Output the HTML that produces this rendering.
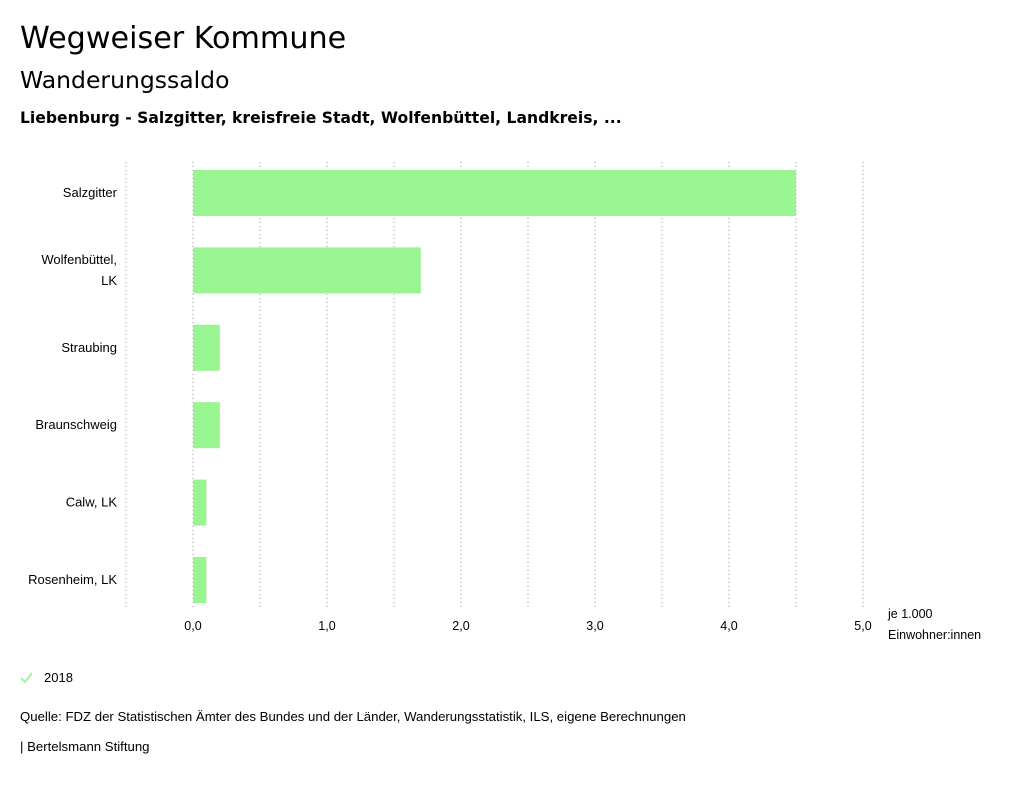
<!DOCTYPE html>
<html><head><meta charset="utf-8"><style>
body{margin:0;background:#fff;font-family:"Liberation Sans","DejaVu Sans",sans-serif;}
svg text{font-family:"Liberation Sans","DejaVu Sans",sans-serif;}
svg text.h{font-family:"DejaVu Sans","Liberation Sans",sans-serif;}
</style></head><body>
<svg width="1024" height="780">
<text class="h" x="20" y="48" font-size="30.2" fill="#000">Wegweiser Kommune</text>
<text class="h" x="20" y="88" font-size="23.5" fill="#000">Wanderungssaldo</text>
<text class="h" x="20" y="123" font-size="15.6" font-weight="bold" fill="#000">Liebenburg - Salzgitter, kreisfreie Stadt, Wolfenbüttel, Landkreis, ...</text>
<g id="grid"></g>
<g id="bars"></g>
<g id="labels"></g>
<text x="888" y="618" font-size="12.5" fill="#000">je 1.000</text>
<text x="888" y="639" font-size="12.5" fill="#000">Einwohner:innen</text>
<path d="M21 678 L25 682 L32 673" stroke="#98f591" stroke-width="1.8" fill="none"/>
<text x="44" y="682" font-size="13" fill="#000">2018</text>
<text x="20" y="721" font-size="13.2" fill="#000">Quelle: FDZ der Statistischen Ämter des Bundes und der Länder, Wanderungsstatistik, ILS, eigene Berechnungen</text>
<text x="20" y="751" font-size="13.2" fill="#000">| Bertelsmann Stiftung</text>
</svg>
<script>
const categories=[["Salzgitter"],["Wolfenbüttel,","LK"],["Straubing"],["Braunschweig"],["Calw, LK"],["Rosenheim, LK"]];
const values=[4.5,1.7,0.2,0.2,0.1,0.1];
const ticks=[0,1,2,3,4,5];
const tickLabels=["0,0","1,0","2,0","3,0","4,0","5,0"];
const ns="http://www.w3.org/2000/svg";
const x=v=>193+v*134;
const rowY=i=>193+i*77.4;
function mk(t,a,p){const e=document.createElementNS(ns,t);for(const k in a)e.setAttribute(k,a[k]);p.appendChild(e);return e;}
const grid=document.getElementById('grid'),bars=document.getElementById('bars'),labels=document.getElementById('labels');
for(let g=-0.5;g<=5.0001;g+=0.5){
 const l=mk('line',{x1:x(g),x2:x(g),y1:162,y2:610,stroke:'#999','stroke-width':1,'stroke-dasharray':'1,3'},grid);
 
 
}
ticks.forEach((t,i)=>{
 const e=mk('text',{x:x(t),y:630,'font-size':12.5,'text-anchor':'middle',fill:'#000'},labels);
 e.textContent=tickLabels[i];
 
 
});
values.forEach((v,i)=>{
 const r=mk('rect',{x:x(Math.min(0,v)),y:rowY(i)-23,width:Math.abs(x(v)-x(0)),height:46,fill:'#98f591'},bars);
 
 
 const lines=categories[i];
 lines.forEach((s,j)=>{
  const e=mk('text',{x:117,y:rowY(i)+4+(j-(lines.length-1)/2)*21,'font-size':13,'text-anchor':'end',fill:'#000'},labels);
  e.textContent=s;
  
  
 });
});
</script>
</body></html>
